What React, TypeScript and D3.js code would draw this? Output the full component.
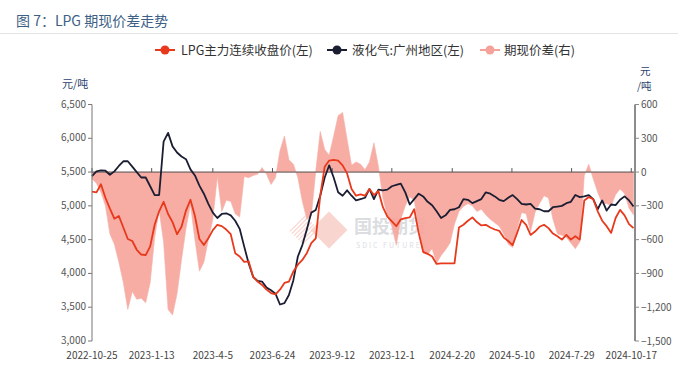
import React from "react";
import * as d3 from "d3";

// ---- data (6-day sampling from 2022-10-25) ----
const START_DATE = "2022-10-25";
const END_DATE = "2024-10-22";
const STEP_DAYS = 6;

const FUTURES = [
  5210, 5200, 5320, 5120, 4960, 4810, 4850, 4680, 4510, 4480,
  4350, 4280, 4270, 4400, 4720, 4920, 5060, 4880, 4760, 4580,
  4690, 4930, 5090, 4850, 4510, 4420, 4520, 4640, 4720, 4700,
  4650, 4580, 4300, 4250, 4170, 4180, 3950, 3880, 3830, 3760,
  3710, 3690, 3760, 3860, 3880, 4030, 4130, 4200, 4300, 4450,
  4520, 5150, 5580, 5670, 5680, 5670, 5600, 5480, 5250, 5150,
  5170, 5150, 5250, 5160, 5220, 4980, 4840, 4770, 4700, 4800,
  4820, 4830, 4950, 4600, 4320, 4290, 4250, 4140, 4150, 4150,
  4150, 4150, 4680, 4720, 4780, 4830, 4760, 4710, 4720, 4680,
  4650, 4630, 4530, 4480, 4420, 4600, 4790, 4720, 4570, 4620,
  4690, 4720, 4670, 4590, 4550, 4500, 4570, 4500, 4550, 4500,
  5080, 5130, 5100, 4920, 4780, 4700, 4600, 4820, 4940, 4860,
  4730, 4670,
];

const SPOT_GZ = [
  5440, 5510, 5525, 5520, 5460, 5510, 5590, 5660, 5660, 5580,
  5500, 5420, 5420, 5290, 5160, 5160, 5950, 6080, 5880, 5790,
  5730, 5690, 5540, 5450, 5300, 5180, 5030, 4900, 4820, 4880,
  4890, 4860, 4780, 4660, 4400, 4150, 3950, 3890, 3880, 3790,
  3750, 3700, 3540, 3560, 3680, 3900, 4250, 4420, 4650, 4900,
  4940, 5150, 5420, 5600, 5420, 5200, 5150, 5230, 5150, 5080,
  5100, 5120, 5250, 5100, 5240, 5230, 5240, 5290, 5310, 5330,
  5200, 5020, 5100, 5180, 5140, 5060, 5010, 4920, 4820, 4860,
  4940, 4950, 4980, 5100, 5090, 5040, 5070, 5100, 5200, 5180,
  5140, 5090, 5070, 5120, 5160, 5100, 5030, 5020, 5030, 4960,
  4950, 4920, 4920, 4980, 4990, 5000, 5040, 5060, 5160, 5130,
  5140, 5160, 5100, 4950, 5080, 4930, 5020, 5010, 5090, 5140,
  5080, 4990,
];

const SPREAD = [
  -60, -100, -180, -300, -550, -640, -800, -980, -1220, -1060,
  -1130, -1120, -1160, -980, -580, -340, -620, -1220, -1270, -1080,
  -780, -500, -290, -600, -880, -800, -600, -420, -40, -350,
  -250, -260, -370, -400, -40, -50, -30, -20, 40, -20,
  -110, -50, 190, 320, 110, 70, -50, -260, -420, -390,
  10, 360, 200, 150, 320, 500, 530, 290, 60, 90,
  70, 20, 90, 260, 50, -230, -390, -480, -650, -420,
  -300, -220, -250, -490, -720, -730, -680, -810, -740, -690,
  -630, -460, -350, -305, -280, -300, -350, -330, -380, -420,
  -450, -480, -550, -640, -670, -500, -360, -370, -530, -360,
  -280, -210, -230, -420, -550, -560, -580, -630, -680, -620,
  -30, 70, -60, -180, -280, -280, -300, -200, -150, -190,
  -320, -380,
];

const X_TICK_LABELS = [
  "2022-10-25", "2023-1-13", "2023-4-5", "2023-6-24", "2023-9-12",
  "2023-12-1", "2024-2-20", "2024-5-10", "2024-7-29", "2024-10-17",
];
const LEFT_TICKS = [3000, 3500, 4000, 4500, 5000, 5500, 6000, 6500];
const RIGHT_TICKS = [-1500, -1200, -900, -600, -300, 0, 300, 600];

const TITLE = "图 7：LPG 期现价差走势";
const LEGEND = [
  { label: "LPG主力连续收盘价(左)", color: "#e8391c" },
  { label: "液化气:广州地区(左)", color: "#1b1e33" },
  { label: "期现价差(右)", color: "#f4a29a" },
];

const FONT = "'Noto Sans CJK SC', 'Noto Sans', sans-serif";

function parseDate(s: string) {
  const [y, m, d] = s.split("-").map(Number);
  return new Date(y, m - 1, d);
}

export default function App() {
  const W = 678;
  const H = 369;
  const x0 = 92;
  const x1 = 635;
  const yTop = 104.5;
  const yBot = 341;

  const start = parseDate(START_DATE);
  const dates = FUTURES.map((_, i) => d3.timeDay.offset(start, i * STEP_DAYS));

  const x = d3.scaleTime().domain([start, parseDate(END_DATE)]).range([x0, x1]);
  const yL = d3.scaleLinear().domain([3000, 6500]).range([yBot, yTop]);
  const yR = d3.scaleLinear().domain([-1500, 600]).range([yBot, yTop]);
  const fmt = d3.format(",");

  const area = d3
    .area<number>()
    .x((_, i) => x(dates[i]))
    .y0(yR(0))
    .y1((d) => yR(d))
    .curve(d3.curveLinear);

  const lineL = d3
    .line<number>()
    .x((_, i) => x(dates[i]))
    .y((d) => yL(d))
    .curve(d3.curveLinear);

  const zeroY = yR(0);

  return (
    <svg width={W} height={H} style={{ display: "block", position: "absolute", left: 0, top: 0, background: "#fff" }} fontFamily={FONT}>
      <rect x={0} y={0} width={W} height={H} fill="#fff" />
      {/* title */}
      <text x={16} y={26} fontSize={14} fill="#3d5f86">{TITLE}</text>
      <line x1={0} x2={W} y1={33.5} y2={33.5} stroke="#e4e4e4" strokeWidth={1} />

      {/* legend */}
      {LEGEND.map((it, i) => {
        const cx = [165, 337, 490][i];
        const tx = [181, 352, 504][i];
        return (
          <g key={it.label}>
            <line x1={cx - 10} x2={cx + 10} y1={50} y2={50} stroke={it.color} strokeWidth={2} />
            <circle cx={cx} cy={50} r={4.5} fill={it.color} />
            <text x={tx} y={54.5} fontSize={12.5} fill="#333">{it.label}</text>
          </g>
        );
      })}

      {/* unit labels */}
      <text x={62} y={88} fontSize={11} fill="#2d3f6b">元/吨</text>
      <text x={640} y={75} fontSize={10.5} fill="#2d3f6b">元</text>
      <text x={637} y={90} fontSize={10.5} fill="#2d3f6b">/吨</text>

      {/* watermark */}
      <g opacity={0.35}>
        <g transform="translate(304,230) rotate(45)">
          {d3.range(-9, 10, 3).map((k) => (
            <line key={k} x1={k} x2={k} y1={-11} y2={11} stroke="#f08a7a" strokeWidth={1.2} />
          ))}
        </g>
        <rect x={-13} y={-13} width={26} height={26} fill="#f08a7a" transform="translate(329,230) rotate(45)" />
        <text x={354} y={233} fontSize={18} fill="#9aa0a8" fontWeight={700}>国投期货</text>
        <text x={356} y={248} fontSize={7} fill="#9aa0a8" letterSpacing={2}>SDIC FUTURES</text>
      </g>

      {/* spread area */}
      <path d={area(SPREAD) || ""} fill="#f6a39a" fillOpacity={0.9} stroke="#f4b0a8" strokeWidth={0.6} />

      {/* zero / category axis line */}
      <line x1={x0} x2={x1} y1={zeroY} y2={zeroY} stroke="#555" strokeWidth={1} />
      {X_TICK_LABELS.map((s) => {
        const xx = x(parseDate(s));
        return <line key={"t" + s} x1={xx} x2={xx} y1={zeroY - 4} y2={zeroY} stroke="#555" strokeWidth={1} />;
      })}

      {/* lines */}
      <path d={lineL(SPOT_GZ) || ""} fill="none" stroke="#1b1e33" strokeWidth={1.8} strokeLinejoin="round" />
      <path d={lineL(FUTURES) || ""} fill="none" stroke="#e8391c" strokeWidth={1.8} strokeLinejoin="round" />

      {/* left axis */}
      <line x1={x0} x2={x0} y1={yTop} y2={yBot} stroke="#777" strokeWidth={1} />
      {LEFT_TICKS.map((t) => (
        <g key={"l" + t}>
          <line x1={x0 - 4} x2={x0} y1={yL(t)} y2={yL(t)} stroke="#777" />
          <text x={x0 - 6} y={yL(t) + 3} fontSize={10} fill="#555" textAnchor="end">{fmt(t)}</text>
        </g>
      ))}

      {/* right axis */}
      <line x1={x1} x2={x1} y1={yTop} y2={yBot} stroke="#8c8c8c" strokeWidth={2} />
      {RIGHT_TICKS.map((t) => (
        <g key={"r" + t}>
          <line x1={x1} x2={x1 + 4} y1={yR(t)} y2={yR(t)} stroke="#8c8c8c" />
          <text x={x1 + 6} y={yR(t) + 3.5} fontSize={10} fill="#555">{fmt(t)}</text>
        </g>
      ))}

      {/* x labels */}
      {X_TICK_LABELS.map((s) => (
        <text key={"x" + s} x={x(parseDate(s))} y={359} fontSize={10} fill="#444" textAnchor="middle">{s}</text>
      ))}
    </svg>
  );
}
